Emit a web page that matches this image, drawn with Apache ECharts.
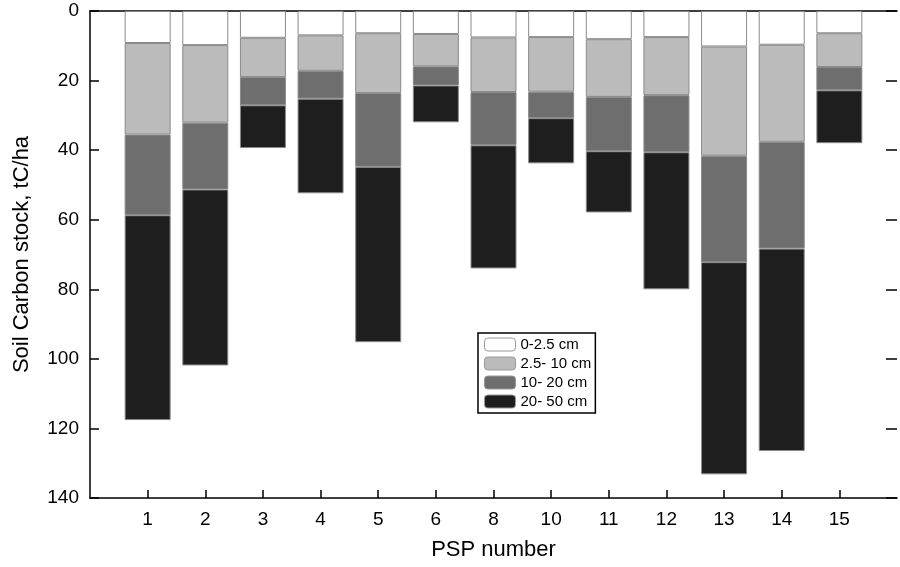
<!DOCTYPE html>
<html>
<head>
<meta charset="utf-8">
<script src="https://cdn.jsdelivr.net/npm/echarts@6/dist/echarts.min.js"></script>
<style>
  html, body { margin: 0; padding: 0; background: #fff; }
  #chart { width: 900px; height: 567px; }
</style>
</head>
<body>
<div id="chart"></div>
<script>
// PSP plots along the x axis
const psp = ['1', '2', '3', '4', '5', '6', '8', '10', '11', '12', '13', '14', '15']
// carbon stock per depth layer, tC/ha
const depth0to2 = [9.2, 9.8, 7.7, 7.0, 6.4, 6.6, 7.6, 7.5, 8.1, 7.5, 10.2, 9.7, 6.4]
const depth2to10 = [26.3, 22.3, 11.3, 10.2, 17.2, 9.3, 15.7, 15.7, 16.6, 16.7, 31.4, 27.9, 9.7]
const depth10to20 = [23.2, 19.2, 8.1, 8.0, 21.2, 5.5, 15.3, 7.6, 15.6, 16.4, 30.6, 30.7, 6.7]
const depth20to50 = [58.9, 50.6, 12.3, 27.2, 50.4, 10.6, 35.4, 13.0, 17.6, 39.4, 61.0, 58.2, 15.2]
const layerNames = ['0-2.5 cm', '2.5- 10 cm', '10- 20 cm', '20- 50 cm']

const font = 'Liberation Sans'
const chart = echarts.init(document.getElementById('chart'))

// empty slots at both ends leave the gap the original axis has
const axisData = [''].concat(psp, [''])
const padded = arr => ['-'].concat(arr, ['-'])

const layer = (name, values, color) => ({
  name: name,
  type: 'bar',
  stack: 'soil',
  barWidth: 46,
  data: padded(values),
  itemStyle: { color: color, borderColor: '#8a8a8a', borderWidth: 1 }
})

chart.setOption({
  animation: false,
  grid: { left: 90, top: 11, width: 817, height: 487 },
  legend: {
    orient: 'vertical',
    left: 478,
    top: 333,
    itemWidth: 31,
    itemHeight: 13,
    itemGap: 4,
    padding: [4, 4, 4, 6],
    borderColor: '#000',
    borderWidth: 1.5,
    itemStyle: { borderColor: '#999', borderWidth: 1 },
    textStyle: { fontFamily: font, fontSize: 15, color: '#000' },
    data: layerNames
  },
  xAxis: [
    {
      type: 'category',
      data: axisData,
      boundaryGap: false,
      name: 'PSP number',
      nameLocation: 'middle',
      nameGap: 41,
      nameTextStyle: { fontFamily: font, fontSize: 22, color: '#000' },
      axisLine: { onZero: false, lineStyle: { color: '#000', width: 1.5 } },
      axisTick: {
        inside: true,
        length: 8,
        interval: (i, v) => v !== '',
        lineStyle: { color: '#000', width: 1.5 }
      },
      axisLabel: {
        fontFamily: font,
        fontSize: 19,
        color: '#000',
        margin: 12,
        interval: 0
      },
      splitLine: { show: false }
    },
    {
      type: 'category',
      data: axisData,
      boundaryGap: false,
      position: 'top',
      axisLine: { show: true, onZero: false, lineStyle: { color: '#000', width: 1.5 } },
      axisTick: { show: false },
      axisLabel: { show: false },
      splitLine: { show: false }
    }
  ],
  yAxis: [
    {
      type: 'value',
      inverse: true,
      min: 0,
      max: 140,
      interval: 20,
      name: 'Soil Carbon stock, tC/ha',
      nameLocation: 'middle',
      nameGap: 57,
      nameTextStyle: { fontFamily: font, fontSize: 22, color: '#000' },
      axisLine: { show: true, onZero: false, lineStyle: { color: '#000', width: 1.5 } },
      axisTick: { show: true, inside: true, length: 9, lineStyle: { color: '#000', width: 1.5 } },
      axisLabel: { fontFamily: font, fontSize: 19, color: '#000', margin: 11 },
      splitLine: { show: false }
    },
    {
      type: 'value',
      position: 'right',
      inverse: true,
      min: 0,
      max: 140,
      interval: 20,
      axisLine: { show: false, onZero: false },
      axisTick: { show: true, inside: true, length: 11, lineStyle: { color: '#000', width: 1.5 } },
      axisLabel: { show: false },
      splitLine: { show: false }
    }
  ],
  series: [
    layer(layerNames[0], depth0to2, '#ffffff'),
    layer(layerNames[1], depth2to10, '#bbbbbb'),
    layer(layerNames[2], depth10to20, '#6e6e6e'),
    layer(layerNames[3], depth20to50, '#1e1e1e')
  ]
})
</script>
</body>
</html>
